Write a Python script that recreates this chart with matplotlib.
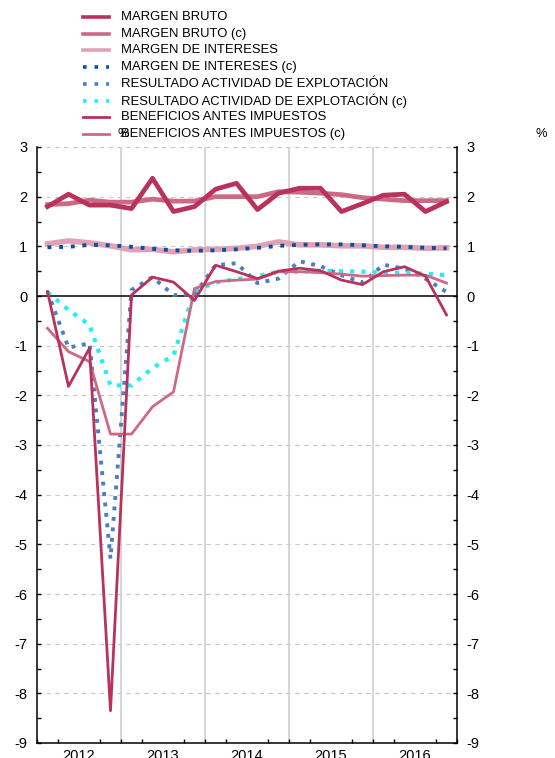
import matplotlib
matplotlib.use("Agg")
import matplotlib.pyplot as plt
from matplotlib.ticker import MultipleLocator, FixedLocator, FuncFormatter
from matplotlib.lines import Line2D

plt.rcParams['font.family'] = ['Liberation Sans', 'DejaVu Sans']

years = ["2012", "2013", "2014", "2015", "2016"]
quarters = list(range(20))

margen_bruto = [1.80, 2.05, 1.83, 1.83, 1.76, 2.37, 1.70, 1.80, 2.15, 2.27,
                1.74, 2.07, 2.17, 2.17, 1.70, 1.86, 2.03, 2.05, 1.70, 1.90]
margen_bruto_c = [1.84, 1.86, 1.93, 1.89, 1.89, 1.95, 1.91, 1.91, 2.00, 2.00,
                  2.00, 2.10, 2.09, 2.07, 2.04, 1.98, 1.95, 1.92, 1.92, 1.92]
margen_intereses = [1.05, 1.11, 1.07, 1.01, 0.93, 0.94, 0.89, 0.93, 0.94, 0.96,
                    1.00, 1.09, 1.03, 1.03, 1.01, 1.01, 0.98, 0.98, 0.96, 0.97]
margen_intereses_c = [0.98, 0.99, 1.03, 1.02, 0.99, 0.95, 0.92, 0.91, 0.92, 0.94,
                      0.97, 1.01, 1.03, 1.04, 1.04, 1.02, 1.00, 0.99, 0.97, 0.96]
resultado = [0.09, -1.04, -0.95, -5.29, 0.12, 0.38, 0.02, 0.03, 0.62, 0.66,
             0.26, 0.35, 0.70, 0.60, 0.42, 0.27, 0.63, 0.55, 0.35, 0.08]
resultado_c = [0.08, -0.28, -0.58, -1.80, -1.80, -1.45, -1.20, 0.10, 0.27, 0.34,
               0.40, 0.49, 0.49, 0.51, 0.50, 0.49, 0.47, 0.47, 0.45, 0.42]
beneficios = [0.09, -1.82, -1.05, -8.35, 0.02, 0.38, 0.28, -0.09, 0.62, 0.49,
              0.35, 0.50, 0.56, 0.51, 0.32, 0.23, 0.49, 0.59, 0.40, -0.38]
beneficios_c = [-0.65, -1.12, -1.32, -2.78, -2.78, -2.23, -1.93, 0.15, 0.29, 0.32,
                0.34, 0.49, 0.49, 0.47, 0.44, 0.40, 0.41, 0.42, 0.42, 0.26]

labels = ["MARGEN BRUTO", "MARGEN BRUTO (c)", "MARGEN DE INTERESES",
          "MARGEN DE INTERESES (c)", "RESULTADO ACTIVIDAD DE EXPLOTACIÓN",
          "RESULTADO ACTIVIDAD DE EXPLOTACIÓN (c)", "BENEFICIOS ANTES IMPUESTOS",
          "BENEFICIOS ANTES IMPUESTOS (c)"]

W, H = 555, 758
fig = plt.figure(figsize=(W/100, H/100), dpi=100)
ax = fig.add_axes([37/W, 15/H, (457-37)/W, (743-147)/H])

ax.set_xlim(-0.5, 19.5)
ax.set_ylim(-9, 3)

# grid
for yv in range(-9, 4):
    if yv == 0:
        continue
    ax.axhline(yv, color='#c8c8c8', lw=0.8, dashes=(4, 4), zorder=1)
for xb in [3.5, 7.5, 11.5, 15.5]:
    ax.axvline(xb, color='#d2d2d2', lw=1.3, zorder=1)
ax.axhline(0, color='black', lw=1.1, zorder=2)

c_mb = '#b8325c'
c_mbc = '#cc6a86'
c_mi = '#e2a2b6'
c_mic = '#0b50a0'
c_res = '#4a7fc0'
c_resc = '#22f0f0'

styles = [
    dict(color=c_mb, lw=3.4, dashes=None, z=5),
    dict(color=c_mbc, lw=3.4, dashes=None, z=4),
    dict(color=c_mi, lw=4.0, dashes=None, z=3),
    dict(color=c_mic, lw=2.8, dashes=(1.0, 2.0), z=6),
    dict(color=c_res, lw=2.8, dashes=(1.0, 1.7), z=6),
    dict(color=c_resc, lw=3.0, dashes=(1.0, 1.7), z=6),
    dict(color=c_mb, lw=2.0, dashes=None, z=7),
    dict(color=c_mbc, lw=2.0, dashes=None, z=6),
]
series = [margen_bruto, margen_bruto_c, margen_intereses, margen_intereses_c,
          resultado, resultado_c, beneficios, beneficios_c]

for data, st in zip(series, styles):
    ln, = ax.plot(quarters, data, color=st['color'], lw=st['lw'], zorder=st['z'])
    if st['dashes'] is not None:
        ln.set_dashes(st['dashes'])

# axes styling
ax.spines['top'].set_visible(False)
for s in ['left', 'right', 'bottom']:
    ax.spines[s].set_linewidth(1.1)
ax.yaxis.set_major_locator(MultipleLocator(1))
ax.yaxis.set_minor_locator(MultipleLocator(0.5))
ax.yaxis.set_major_formatter(FuncFormatter(lambda v, p: "%d" % round(v)))
ax.tick_params(axis='y', which='both', direction='in', left=True, right=True,
               labelleft=True, labelright=True, length=3.2, width=1, labelsize=10.5, pad=7)
ax.xaxis.set_major_locator(FixedLocator([1.5, 5.5, 9.5, 13.5, 17.5]))
ax.set_xticklabels(years)
ax.xaxis.set_minor_locator(FixedLocator([q + 0.5 for q in range(-1, 20)]))
ax.tick_params(axis='x', which='major', length=0, labelsize=10.5, pad=4)
ax.tick_params(axis='x', which='minor', direction='in', length=3.2, width=1)

fig.text(117/W, 1 - 134/H, "%", fontsize=9.3, va='center', ha='left')
fig.text(535/W, 1 - 134/H, "%", fontsize=9.3, va='center', ha='left')

# manual legend with uniform row spacing
for i, (lab, st) in enumerate(zip(labels, styles)):
    yc = 1 - (17 + 16.7 * i) / H
    lw = min(st['lw'], 2.6) if st['dashes'] is None else 2.6
    hl = Line2D([83/W, 109/W], [yc, yc], transform=fig.transFigure,
                color=st['color'], lw=lw)
    if st['dashes'] is not None:
        hl.set_dashes((1.0, 2.2))
    fig.add_artist(hl)
    fig.text(121/W, yc, lab, fontsize=9.4, va='center', ha='left')

fig.savefig("out.png", dpi=100)
